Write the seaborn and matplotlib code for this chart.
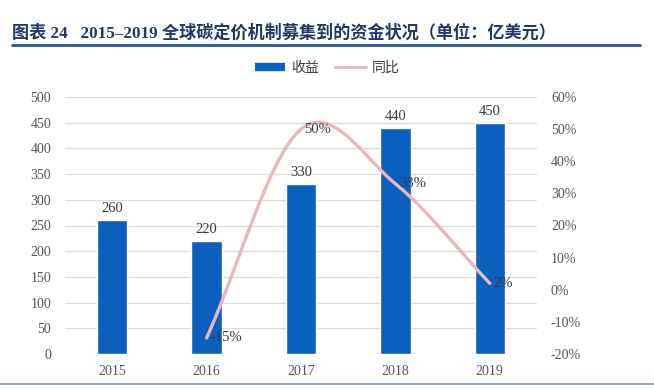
"""
2015-2019 carbon pricing revenue chart (bars + smoothed YoY line).
"""

import matplotlib
matplotlib.use("Agg")
import matplotlib.pyplot as plt
import seaborn as sns
import pandas as pd
import numpy as np
from matplotlib.lines import Line2D

sns.set_style("white")
plt.rcParams["font.family"] = ["Liberation Serif", "Noto Sans CJK SC", "DejaVu Sans"]

# data
years = ["2015", "2016", "2017", "2018", "2019"]
revenue = [260, 220, 330, 440, 450]
yoy_years = ["2016", "2017", "2018", "2019"]
yoy = [-0.15, 0.50, 0.33, 0.02]
yoy_labels = ["-15%", "50%", "33%", "2%"]

BAR_COLOR = "#0a5fbf"
LINE_COLOR = "#e6b8ba"
TEXT_COLOR = "#3a3a3a"
TICK_COLOR = "#555555"

df = pd.DataFrame({"year": years, "revenue": revenue})

fig = plt.figure(figsize=(6.54, 3.89), dpi=100)
ax = fig.add_axes([65 / 654, 1 - 354 / 389, (537 - 65) / 654, (354 - 97) / 389])

sns.barplot(data=df, x="year", y="revenue", color=BAR_COLOR, width=0.32,
            saturation=1, ax=ax, zorder=2)
ax.set_ylim(0, 500)
ax.set_xlim(-0.5, 4.5)
ax.set_yticks(np.arange(0, 501, 50))
ax.grid(axis="y", color="#dcdcdc", linewidth=0.9, zorder=0)
ax.set_axisbelow(True)
ax.set_xlabel("")
ax.set_ylabel("")
for s in ax.spines.values():
    s.set_visible(False)
ax.tick_params(axis="both", length=0, labelsize=10, colors=TICK_COLOR)
ax.tick_params(axis="y", pad=10)
ax.tick_params(axis="x", pad=8)

for i, v in enumerate(revenue):
    ax.text(i, v + 10, str(v), ha="center", va="bottom", fontsize=10.5,
            color=TEXT_COLOR)

# secondary axis: smoothed YoY line (Catmull-Rom through the data points)
ax2 = ax.twinx()
ax2.set_ylim(-0.2, 0.6)
ax2.set_yticks(np.arange(-0.2, 0.61, 0.1))
ax2.set_yticklabels([f"{int(round(t * 100))}%" for t in np.arange(-0.2, 0.61, 0.1)])
ax2.tick_params(axis="y", length=0, labelsize=10, colors=TICK_COLOR, pad=10)
for s in ax2.spines.values():
    s.set_visible(False)

px = np.array([years.index(y) for y in yoy_years], dtype=float)
py = np.array(yoy)
pts = np.column_stack([px, py])
ext = np.vstack([2 * pts[0] - pts[1], pts, 2 * pts[-1] - pts[-2]])
curve = []
for k in range(1, len(ext) - 2):
    p0, p1, p2, p3 = ext[k - 1], ext[k], ext[k + 1], ext[k + 2]
    c1 = p1 + (p2 - p0) / 6
    c2 = p2 - (p3 - p1) / 6
    t = np.linspace(0, 1, 40)[:, None]
    seg = ((1 - t) ** 3) * p1 + 3 * ((1 - t) ** 2) * t * c1 \
        + 3 * (1 - t) * t ** 2 * c2 + t ** 3 * p2
    curve.append(seg)
curve = np.vstack(curve)
ax2.plot(curve[:, 0], curve[:, 1], color=LINE_COLOR, linewidth=2.4,
         solid_capstyle="round", zorder=3)

for x, y, lab in zip(px, py, yoy_labels):
    ax2.annotate(lab, (x, y), xytext=(2.5, 0), textcoords="offset points",
                 ha="left", va="center", fontsize=10.5, color=TEXT_COLOR,
                 zorder=5)

# legend
handles = [Line2D([], [], color=BAR_COLOR, linewidth=6, solid_capstyle="butt"),
           Line2D([], [], color=LINE_COLOR, linewidth=2)]
fig.legend(handles, ["收益", "同比"], loc="center", bbox_to_anchor=(0.5, 1 - 68 / 389),
           ncol=2, frameon=False, fontsize=10, handlelength=2.2, handletextpad=0.4,
           columnspacing=1.2, labelcolor=TEXT_COLOR)

# title and rules
fig.text(12 / 654, 1 - 33 / 389,
         "图表 24   2015–2019 全球碳定价机制募集到的资金状况（单位：亿美元）",
         ha="left", va="center", fontsize=12.3, fontweight="bold", color="#1f3864")
fig.add_artist(Line2D([12 / 654, 640 / 654], [1 - 45 / 389, 1 - 45 / 389],
                      color="#2e5597", linewidth=2))
fig.add_artist(Line2D([0, 1], [1 - 384 / 389, 1 - 384 / 389],
                      color="#8fb0d4", linewidth=1.5))

fig.savefig("out.png", dpi=100)
